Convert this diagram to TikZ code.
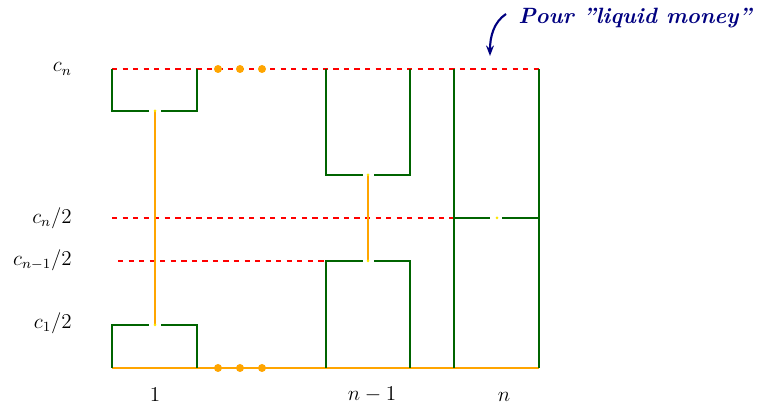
\documentclass[tikz,border=0pt]{standalone}
\usepackage{amsmath}
\usetikzlibrary{arrows.meta}
\definecolor{darkgreen}{RGB}{0,100,0}
\definecolor{liqorange}{RGB}{255,165,0}
\definecolor{navyblue}{RGB}{0,0,128}

\begin{document}
\begin{tikzpicture}[x=0.02cm, y=-0.02cm, every node/.style={font=\large},
  wall/.style={draw=darkgreen, line width=1.7pt},
  flow/.style={draw=liqorange, line width=1.6pt},
  level/.style={draw=red, dashed, line width=0.7pt},
  tip/.style={fill=yellow!90!orange},
  drop/.style={fill=liqorange}]
\useasboundingbox (0,0) rectangle (762,408);

% Levels
\coordinate (top0) at (112,69);
\coordinate (top1) at (539,69);
\coordinate (half0) at (112,218);
\coordinate (half1) at (454,218);
\coordinate (prev0) at (118,261);
\coordinate (prev1) at (326,261);
\draw[level] (top0) -- (top1);
\draw[level] (half0) -- (half1);
\draw[level] (prev0) -- (prev1);

\node[anchor=east] (lcn) at (78,69) {$c_n$};
\node[anchor=east] (lhalfn) at (78,218) {$c_n/2$};
\node[anchor=east] (lhalfp) at (78,260) {$c_{n-1}/2$};
\node[anchor=east] (lhalfa) at (78,323) {$c_1/2$};

% Bottom
\coordinate (bot0) at (112,368);
\coordinate (bot1) at (539,368);
\draw[flow] (bot0) -- (bot1);

% Box 1
\draw[wall] (112,69) -- (112,111) -- (149,111);
\draw[wall] (161,111) -- (197,111) -- (197,69);
\draw[wall] (112,368) -- (112,325) -- (149,325);
\draw[wall] (161,325) -- (197,325) -- (197,368);
\coordinate (a1) at (155,111);
\coordinate (a1') at (155,325);
\draw[flow] (a1) -- (a1');
\fill[tip] (a1) circle (1.5);
\fill[tip] (a1') circle (1.5);
\node (l1) at (155,395) {$1$};

% Dots
\foreach \x in {218,240,262} {
  \fill[drop] (\x,69) circle (4);
  \fill[drop] (\x,368) circle (4);
}

% Box n-1
\draw[wall] (326,69) -- (326,175) -- (363,175);
\draw[wall] (374,175) -- (410,175) -- (410,69);
\draw[wall] (326,368) -- (326,261) -- (363,261);
\draw[wall] (374,261) -- (410,261) -- (410,368);
\coordinate (ap) at (368,175);
\coordinate (ap') at (368,261);
\draw[flow] (ap) -- (ap');
\fill[tip] (ap) circle (1.5);
\fill[tip] (ap') circle (1.5);
\node (lp) at (372,395) {$n-1$};

% Box n
\draw[wall] (454,69) -- (454,368);
\draw[wall] (539,69) -- (539,368);
\draw[wall] (454,218) -- (490,218);
\draw[wall] (502,218) -- (539,218);
\fill[tip] (497,218) circle (1.5);
\node (ln) at (504,397) {$n$};

% Liquid money
\node[text=navyblue, font=\fontsize{12.6}{15}\bfseries\itshape] (liq) at (635,18) {Pour ''liquid money''};
\coordinate (arr0) at (506,14);
\coordinate (arr1) at (490,56);
\draw[navyblue, line width=1.2pt, -{Stealth[length=6pt]}] (arr0) .. controls (494,22) and (490,36) .. (arr1);

\end{tikzpicture}
\end{document}
